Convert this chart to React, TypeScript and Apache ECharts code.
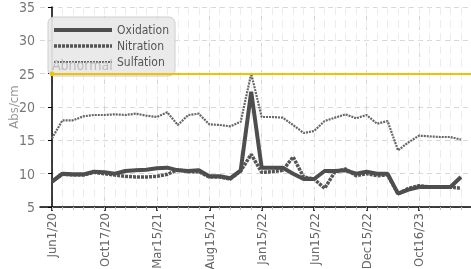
import React, { useEffect, useRef } from "react";
import * as echarts from "echarts";

const tickLabels = ["Jun1/20", "Oct17/20", "Mar15/21", "Aug15/21", "Jan15/22", "Jun15/22", "Dec15/22", "Oct16/23"];
const labelStep = 5;

const oxidation = [8.8, 10.0, 9.9, 9.9, 10.3, 10.2, 10.0, 10.4, 10.5, 10.6, 10.8, 10.9, 10.5, 10.4, 10.5, 9.6, 9.6, 9.3, 10.5, 22.3, 10.9, 10.9, 10.9, 10.0, 9.2, 9.2, 10.4, 10.4, 10.5, 10.0, 10.3, 10.0, 10.0, 7.0, 7.6, 8.0, 8.0, 8.0, 8.0, 9.5];
const nitration = [8.8, 9.9, 9.8, 9.8, 10.2, 10.0, 9.8, 9.6, 9.5, 9.5, 9.6, 9.9, 10.6, 10.3, 10.3, 9.5, 9.5, 9.2, 10.4, 12.9, 10.2, 10.3, 10.5, 12.5, 9.5, 9.2, 7.8, 10.3, 10.7, 9.7, 10.0, 9.7, 9.8, 7.0, 7.8, 8.2, 8.0, 8.0, 8.0, 7.8];
const sulfation = [15.3, 18.0, 18.0, 18.6, 18.8, 18.8, 18.9, 18.8, 19.0, 18.7, 18.5, 19.2, 17.3, 18.8, 19.0, 17.4, 17.3, 17.1, 17.8, 25.0, 18.5, 18.5, 18.4, 17.3, 16.1, 16.4, 17.9, 18.4, 18.9, 18.3, 18.8, 17.5, 17.9, 13.5, 14.7, 15.7, 15.6, 15.5, 15.5, 15.1];
const abnormalLevel = 25;
const abnormalLabel = "Abnormal";

const FONT = "'Liberation Sans Narrow', 'DejaVu Sans Condensed', 'Roboto', sans-serif";

export default function App() {
  const ref = useRef<HTMLDivElement>(null);
  useEffect(() => {
    if (!ref.current) return;
    const chart = echarts.init(ref.current, undefined, { renderer: "svg" });
    const n = oxidation.length;
    const xMin = -1.14;
    const xMax = n - 0.04;
    const majorTicks = tickLabels.map((_, i) => i * labelStep);
    const minorTicks = oxidation.map((_, i) => i);
    const toPairs = (arr: number[]) => arr.map((v, i) => [i, v]);

    chart.setOption({
      animation: false,
      grid: { left: 40, right: 0, top: 7, bottom: 62, outerBoundsMode: "none", containLabel: false },
      legend: {
        orient: "vertical",
        left: 48,
        top: 17,
        padding: [7, 6, 8, 4],
        itemWidth: 58,
        itemHeight: 12,
        itemGap: 4,
        backgroundColor: "rgba(232,232,232,0.92)",
        borderColor: "#cfcfcf",
        borderWidth: 1,
        borderRadius: 6,
        itemStyle: { opacity: 0 },
        textStyle: { color: "#555", fontSize: 12, fontFamily: FONT },
        data: [
          { name: "Oxidation", lineStyle: { width: 4, color: "#4e4e4e", type: "solid" } },
          { name: "Nitration", lineStyle: { width: 3.5, color: "#555", type: [3, 1] } },
          { name: "Sulfation", lineStyle: { width: 2.2, color: "#666", type: [2, 1] } },
        ],
      },
      xAxis: [
        {
          type: "value",
          min: xMin,
          max: xMax,
          axisLine: { onZero: false, lineStyle: { color: "#000", width: 1.5 } },
          axisTick: { customValues: majorTicks, length: 4, lineStyle: { color: "#000", width: 1.5 } },
          axisLabel: {
            customValues: majorTicks,
            rotate: 90,
            margin: 6,
            color: "#666",
            fontSize: 13,
            fontFamily: FONT,
            formatter: (v: number) => tickLabels[Math.round(v / labelStep)] ?? "",
          },
          splitLine: { show: true, lineStyle: { color: "#d4d4d4", type: [5, 4] } },
        },
        {
          type: "value",
          min: xMin,
          max: xMax,
          position: "bottom",
          axisLine: { show: false },
          axisTick: { customValues: minorTicks, length: 3, lineStyle: { color: "#bbb" } },
          axisLabel: { show: false },
          splitLine: { show: true, lineStyle: { color: "#ececec", type: [8, 5] } },
        },
      ],
      yAxis: {
        type: "value",
        min: 5,
        max: 35,
        interval: 5,
        name: "Abs/cm",
        nameLocation: "middle",
        nameGap: 20,
        nameMoveOverlap: false,
        nameTextStyle: { color: "#999", fontSize: 13, fontFamily: FONT },
        axisLine: { show: true, lineStyle: { color: "#000", width: 1.5 } },
        axisTick: { show: true, length: 4, lineStyle: { color: "#000" } },
        axisLabel: { color: "#777", fontSize: 14, fontFamily: FONT, margin: 5 },
        splitLine: { show: true, lineStyle: { color: "#d8d8d8", type: [5, 4] } },
      },
      series: [
        {
          name: "Oxidation",
          type: "line",
          xAxisIndex: 0,
          data: toPairs(oxidation),
          symbol: "none",
          lineStyle: { color: "#4e4e4e", width: 4 },
          itemStyle: { color: "#4e4e4e" },
          z: 3,
          markLine: {
            silent: true,
            symbol: ["rect", "none"],
            symbolSize: 4,
            lineStyle: { color: "#f2c200", width: 2, type: "solid" },
            label: {
              show: true,
              position: "insideStartTop",
              formatter: abnormalLabel,
              color: "#bbb",
              fontSize: 14,
              fontFamily: FONT,
              distance: [0, 2],
            },
            data: [[{ coord: [0, abnormalLevel] }, { coord: [xMax, abnormalLevel] }]],
          },
        },
        {
          name: "Nitration",
          type: "line",
          xAxisIndex: 0,
          data: toPairs(nitration),
          symbol: "none",
          lineStyle: { color: "#555", width: 3.5, type: [3, 1] },
          itemStyle: { color: "#555" },
          z: 2,
        },
        {
          name: "Sulfation",
          type: "line",
          xAxisIndex: 0,
          data: toPairs(sulfation),
          symbol: "none",
          lineStyle: { color: "#666", width: 2.2, type: [2, 1] },
          itemStyle: { color: "#666" },
          z: 1,
        },
      ],
    });
    return () => chart.dispose();
  }, []);
  return <div ref={ref} style={{ position: "fixed", left: 0, top: 0, width: 471, height: 269 }} />;
}
